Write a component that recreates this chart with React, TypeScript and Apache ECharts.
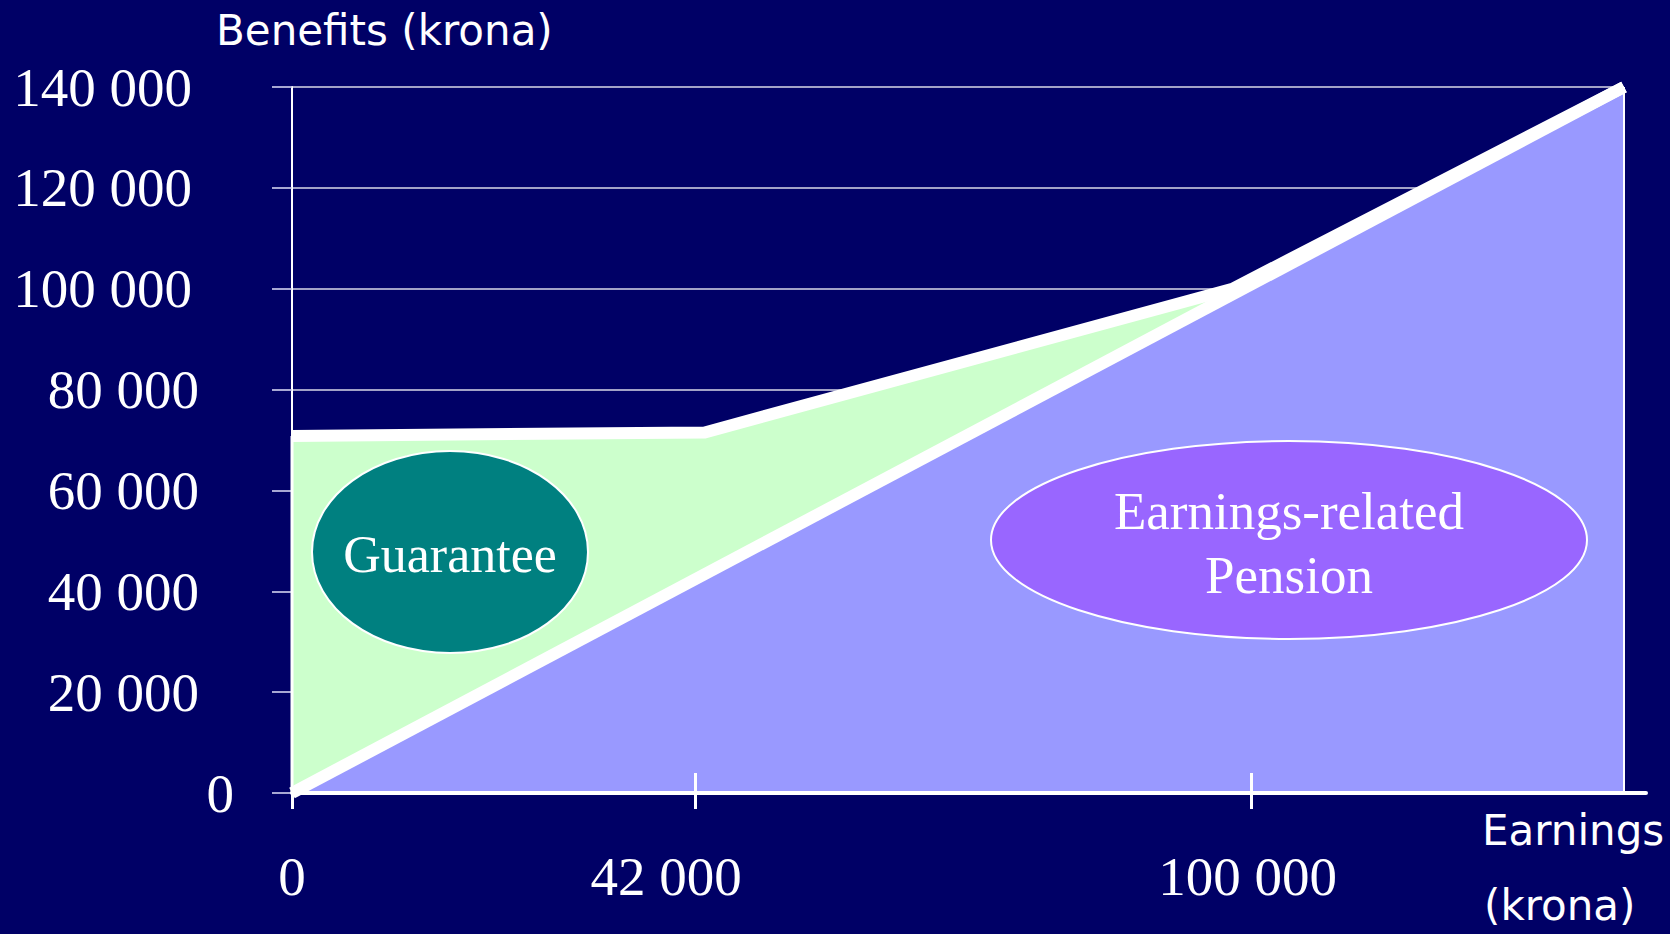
import React, { useEffect, useRef } from "react";
import * as echarts from "echarts";

// ---- data ----
const earningsLine: [number, number][] = [
  [0, 0],
  [138800, 140000],
];
const guaranteeLine: [number, number][] = [
  [0, 70800],
  [43000, 71500],
  [98000, 100000],
  [138800, 140000],
];
const guaranteeLeftEdge: [number, number][] = [
  [0, 0],
  [0, 70800],
];
const earningsRightEdge: [number, number][] = [
  [138800, 0],
  [138800, 140000],
];
const xTickValues = [0, 42000, 100000];
const xInnerTickValues = [42000, 100000];
const yMax = 140000;
const yInterval = 20000;
const xMax = 138800;
const yTitle = "Benefits (krona)";
const xTitleLine1 = "Earnings";
const xTitleLine2 = "(krona)";
const guaranteeLabel = "Guarantee";
const earningsLabel = "Earnings-related\nPension";

const BG = "#000066";
const SERIF = '"Liberation Serif", "Times New Roman", serif';
const SANS = 'Tahoma, "DejaVu Sans", sans-serif';

const fmt = (v: number) =>
  String(v).replace(/\B(?=(\d{3})+(?!\d))/g, " ");

export default function App() {
  const ref = useRef<HTMLDivElement>(null);

  useEffect(() => {
    if (!ref.current) return;
    const chart = echarts.init(ref.current, undefined, { renderer: "svg" });

    const labelBase = { fontFamily: SERIF, fontSize: 55, color: "#ffffff" };

    chart.setOption({
      animation: false,
      backgroundColor: BG,
      grid: [
        { left: 292, right: 1670 - 1624, top: 87, bottom: 934 - 793 },
        { left: 292, right: 24, top: 87, bottom: 934 - 793 },
      ],
      xAxis: [
        {
          type: "value",
          gridIndex: 0,
          min: 0,
          max: xMax,
          z: 10,
          axisLine: { show: false },
          splitLine: { show: false },
          axisTick: {
            show: true,
            customValues: xTickValues,
            length: 16,
            inside: false,
            lineStyle: { color: "#ffffff", width: 3 },
          },
          axisLabel: {
            customValues: xTickValues,
            margin: 56,
            ...labelBase,
            formatter: (v: number) => {
              const s = fmt(v);
              if (v === 42000) return `{a|${s}}`;
              if (v === 100000) return `{b|${s}}`;
              return `{c|${s}}`;
            },
            rich: {
              a: { ...labelBase, padding: [0, 58, 0, 0] },
              b: { ...labelBase, padding: [0, 8, 0, 0] },
              c: { ...labelBase },
            },
          },
        },
        {
          type: "value",
          gridIndex: 0,
          min: 0,
          max: xMax,
          position: "bottom",
          z: 10,
          axisLine: { show: false },
          splitLine: { show: false },
          axisLabel: { show: false },
          axisTick: {
            show: true,
            customValues: xInnerTickValues,
            length: 20,
            inside: true,
            lineStyle: { color: "#ffffff", width: 3 },
          },
        },
        {
          type: "value",
          gridIndex: 1,
          min: 0,
          max: 141000,
          z: 9,
          axisLine: { show: true, lineStyle: { color: "#ffffff", width: 4 } },
          axisTick: { show: false },
          axisLabel: { show: false },
          splitLine: { show: false },
        },
      ],
      yAxis: [
        {
          type: "value",
          gridIndex: 0,
          min: 0,
          max: yMax,
          interval: yInterval,
          z: 0,
          axisLine: { show: true, lineStyle: { color: "#ffffff", width: 2 } },
          axisTick: {
            show: true,
            length: 20,
            lineStyle: { color: "rgba(210,210,240,0.8)", width: 2 },
          },
          splitLine: {
            show: true,
            lineStyle: { color: "rgba(255,255,255,0.85)", width: 1.5 },
          },
          axisLabel: {
            margin: 58,
            ...labelBase,
            formatter: (v: number) => {
              const s = fmt(v);
              if (v === 0) return `{z|${s}}`;
              if (v >= 100000) return `{l|${s}}`;
              return `{m|${s}}`;
            },
            rich: {
              z: { ...labelBase },
              m: { ...labelBase, padding: [0, 35, 0, 0] },
              l: { ...labelBase, padding: [0, 42, 0, 0] },
            },
          },
        },
        {
          type: "value",
          gridIndex: 1,
          min: 0,
          max: yMax,
          show: false,
        },
      ],
      series: [
        {
          type: "line",
          name: "guarantee-area",
          xAxisIndex: 0,
          yAxisIndex: 0,
          data: guaranteeLine,
          symbol: "none",
          lineStyle: { width: 0, opacity: 0 },
          areaStyle: { color: "#CCFFCC", opacity: 1 },
          z: 2,
        },
        {
          type: "line",
          name: "earnings-area",
          xAxisIndex: 0,
          yAxisIndex: 0,
          data: earningsLine,
          symbol: "none",
          lineStyle: { width: 0, opacity: 0 },
          areaStyle: { color: "#9999FF", opacity: 1 },
          z: 3,
        },
        {
          type: "line",
          name: "right-edge",
          data: earningsRightEdge,
          symbol: "none",
          clip: false,
          lineStyle: { color: "#ffffff", width: 2 },
          z: 4,
        },
        {
          type: "line",
          name: "left-edge",
          data: guaranteeLeftEdge,
          symbol: "none",
          clip: false,
          lineStyle: { color: "#ffffff", width: 3 },
          z: 4,
        },
        {
          type: "line",
          name: "guarantee-line",
          data: guaranteeLine,
          symbol: "none",
          clip: false,
          lineStyle: { color: "#ffffff", width: 12, join: "miter", cap: "butt" },
          z: 6,
        },
        {
          type: "line",
          name: "earnings-line",
          data: earningsLine,
          symbol: "none",
          clip: false,
          lineStyle: { color: "#ffffff", width: 12, join: "miter", cap: "butt" },
          z: 6,
        },
      ],
      graphic: [
        {
          type: "text",
          left: 216,
          top: 9,
          style: {
            text: yTitle,
            fill: "#ffffff",
            fontFamily: SANS,
            fontSize: 42,
          },
        },
        {
          type: "text",
          left: 1482,
          top: 809,
          style: {
            text: xTitleLine1,
            fill: "#ffffff",
            fontFamily: SANS,
            fontSize: 42,
          },
        },
        {
          type: "text",
          left: 1484,
          top: 884,
          style: {
            text: xTitleLine2,
            fill: "#ffffff",
            fontFamily: SANS,
            fontSize: 42,
          },
        },
        {
          type: "ellipse",
          shape: { cx: 450, cy: 552, rx: 138, ry: 101 },
          style: { fill: "#008080", stroke: "#ffffff", lineWidth: 2 },
          z: 100,
        },
        {
          type: "text",
          x: 450,
          y: 554,
          style: {
            text: guaranteeLabel,
            fill: "#ffffff",
            fontFamily: SERIF,
            fontSize: 52,
            align: "center",
            verticalAlign: "middle",
          },
          z: 101,
        },
        {
          type: "ellipse",
          shape: { cx: 1289, cy: 540, rx: 298, ry: 99 },
          style: { fill: "#9966FF", stroke: "#ffffff", lineWidth: 2 },
          z: 100,
        },
        {
          type: "text",
          x: 1289,
          y: 543,
          style: {
            text: earningsLabel,
            fill: "#ffffff",
            fontFamily: SERIF,
            fontSize: 53,
            lineHeight: 64,
            align: "center",
            verticalAlign: "middle",
          },
          z: 101,
        },
      ],
    });

    return () => {
      chart.dispose();
    };
  }, []);

  return (
    <div
      ref={ref}
      style={{
        position: "absolute",
        left: 0,
        top: 0,
        width: 1670,
        height: 934,
        background: BG,
      }}
    />
  );
}
